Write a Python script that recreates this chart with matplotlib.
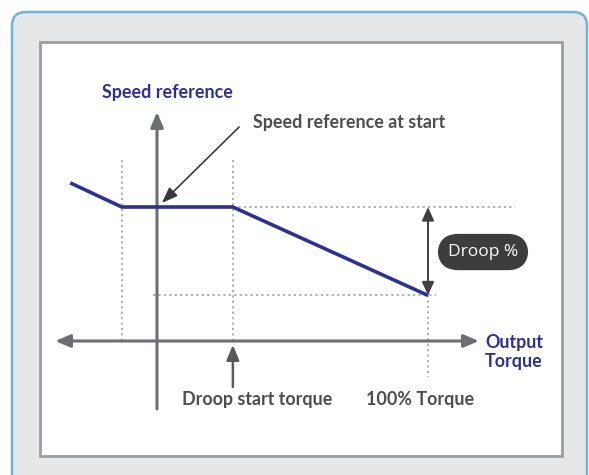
import matplotlib.pyplot as plt
from matplotlib.patches import FancyBboxPatch, Rectangle

plt.rcParams['font.family'] = ['Lato', 'DejaVu Sans']

# Droop curve (schematic): torque in %, speed reference in %
torque = [-32, -13, 28, 100]
speed = [118, 100, 100, 34]

start_speed = 100      # speed reference at start
droop_torque = 28      # droop start torque
full_torque = 100      # 100% torque
end_speed = 34         # speed at 100% torque

navy = '#2e3192'
axis_gray = '#6d6e71'
dot_gray = '#a7a9ac'
text_gray = '#4d4d4f'

fig = plt.figure(figsize=(5.89, 4.75), dpi=100)

# frame (pixel coordinates)
bg = fig.add_axes([0, 0, 1, 1])
bg.set_xlim(0, 589)
bg.set_ylim(475, 0)
bg.axis('off')
bg.add_patch(FancyBboxPatch((12, 12), 575, 480,
                            boxstyle='round,pad=0,rounding_size=14',
                            fc='#e6e7e8', ec='#6db3e6', lw=1.8))
bg.add_patch(Rectangle((40, 42), 522, 414, fc='white', ec='#9d9d9f', lw=2))

# chart
ax = fig.add_axes([0, 0, 1, 1])
ax.patch.set_alpha(0)
ax.set_xlim(-57.93, 159.41)
ax.set_ylim(-100, 254.48)
ax.axis('off')

dots = dict(color=dot_gray, lw=1.3, ls=(0, (1.2, 1.8)))
ax.plot([torque[1], torque[1]], [135, 0], **dots)
ax.plot([droop_torque, droop_torque], [135, 0], **dots)
ax.plot([droop_torque, 132], [start_speed, start_speed], **dots)
ax.plot([-1.5, 103], [end_speed, end_speed], **dots)
ax.plot([full_torque, full_torque], [end_speed, -27], **dots)

# axes arrows
head = 'head_length=0.9,head_width=0.38'
ax.annotate('', xy=(118.8, 0), xytext=(-37.6, 0),
            arrowprops=dict(arrowstyle='<|-|>,' + head,
                            color=axis_gray, lw=2.2, shrinkA=0, shrinkB=0,
                            mutation_scale=10))
ax.annotate('', xy=(0, 170.9), xytext=(0, -50.7),
            arrowprops=dict(arrowstyle='-|>,' + head,
                            color=axis_gray, lw=2.2, shrinkA=0, shrinkB=0,
                            mutation_scale=10))

# droop curve
ax.plot(torque, speed, color=navy, lw=2.6, solid_capstyle='butt', zorder=5)

# droop double arrow
ax.annotate('', xy=(full_torque, start_speed), xytext=(full_torque, end_speed),
            arrowprops=dict(arrowstyle='<|-|>,head_length=0.9,head_width=0.4',
                            color='#404041', lw=1.4, shrinkA=0, shrinkB=0,
                            mutation_scale=9))
ax.text(120.3, 66.4, 'Droop %', color='white', fontsize=12.5,
        ha='center', va='center', family=['Open Sans', 'DejaVu Sans'],
        bbox=dict(boxstyle='round,pad=0.62,rounding_size=1.25',
                  fc='#3d3d3e', ec='white', lw=0.8))

# annotations
ax.annotate('', xy=(1.8, 103), xytext=(30.3, 159.7),
            arrowprops=dict(arrowstyle='-|>,head_length=0.8,head_width=0.3',
                            color='#3a3a3b', lw=1.2, shrinkA=0, shrinkB=0,
                            mutation_scale=12))
ax.annotate('', xy=(droop_torque, -3), xytext=(droop_torque, -34.3),
            arrowprops=dict(arrowstyle='-|>,' + head,
                            color='#58595b', lw=1.8, shrinkA=0, shrinkB=0,
                            mutation_scale=10))

fs = 12.9
ax.text(3.7, 185.8, 'Speed reference', color=navy, fontsize=fs,
        fontweight='bold', ha='center', va='center')
ax.text(35.4, 163.4, 'Speed reference at start', color=text_gray,
        fontsize=fs, fontweight='bold', ha='left', va='center')
ax.text(36.9, -43.3, 'Droop start torque', color=text_gray, fontsize=fs,
        fontweight='bold', ha='center', va='center')
ax.text(96.9, -43.3, '100% Torque', color=text_gray, fontsize=fs,
        fontweight='bold', ha='center', va='center')
ax.text(121, -8.2, 'Output\nTorque', color=navy, fontsize=fs,
        fontweight='bold', ha='left', va='center', multialignment='left',
        linespacing=1.2)

fig.savefig('out.png', dpi=100)
